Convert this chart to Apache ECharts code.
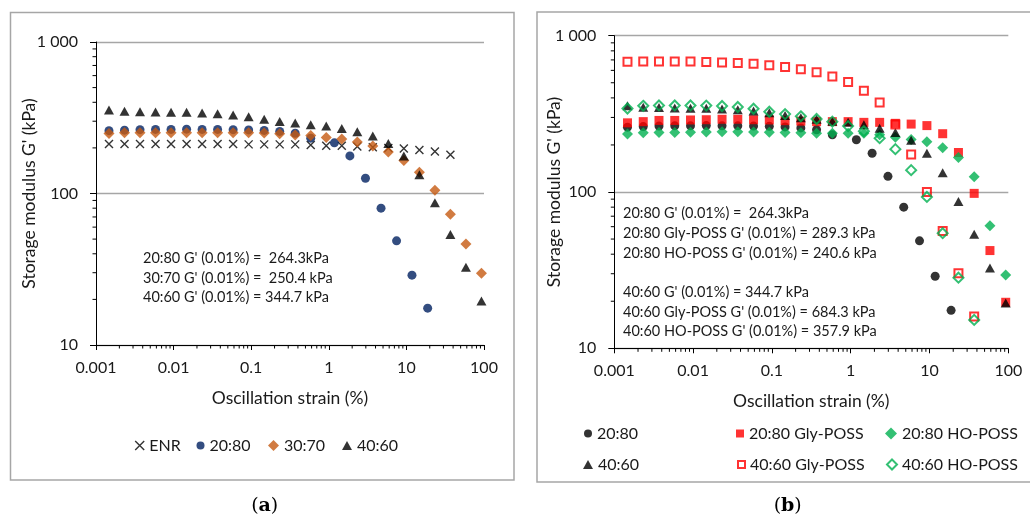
<!DOCTYPE html>
<html><head><meta charset="utf-8">
<script src="https://cdn.jsdelivr.net/npm/echarts@6/dist/echarts.min.js"></script>
<style>
html,body{margin:0;padding:0;background:#fff;}
#wrap{position:relative;width:1030px;height:518px;overflow:hidden;}
#ca{position:absolute;left:0;top:0;width:515px;height:518px;}
#cb{position:absolute;left:515px;top:0;width:515px;height:518px;}
</style>
</head><body>
<div id="wrap"><div id="ca"></div><div id="cb"></div></div>
<script>
// ---------- data ----------
const strain = [0.00147, 0.00233, 0.00369, 0.00585, 0.00927, 0.0147, 0.0233, 0.0369, 0.0585, 0.0927, 0.147, 0.233, 0.369, 0.585, 0.927, 1.47, 2.33, 3.69, 5.85, 9.27, 14.7, 23.3, 36.9, 58.5, 92.7];
const strain2080 = [0.00147, 0.00233, 0.00369, 0.00585, 0.00927, 0.0147, 0.0233, 0.0369, 0.0585, 0.0927, 0.147, 0.233, 0.369, 0.585, 1.18, 1.87, 2.97, 4.71, 7.47, 11.8, 18.8];
const gENR = [212, 212, 212, 212, 212, 212, 212, 212, 212, 211, 211, 211, 211, 209, 207, 207, 204, 202, 200, 198, 194, 189, 180];
const g2080 = [260, 262, 264, 265, 265, 266, 265, 265, 264, 263, 261, 257, 250, 232, 216, 177, 126, 80, 48.7, 28.9, 17.5];
const g3070 = [249, 252, 252, 252, 252, 252, 252, 252, 252, 252, 251, 248, 243, 241, 234, 229, 219, 206, 188, 165, 138, 105, 73, 46.4, 29.8];
const g4060 = [356, 349, 347, 345, 344, 344, 340, 336, 330, 321, 309, 299, 292, 284, 279, 269, 256, 240, 214, 177, 133, 87, 53.7, 32.6, 19.5];
const g2080Gly = [277, 282, 287, 287, 289, 290, 292, 292, 290, 289, 286, 284, 282, 282, 282, 279, 279, 275, 272, 266, 236, 179, 98, 42.2, 19.7];
const g2080HO = [235, 239, 240, 240, 241, 242, 243, 243, 242, 241, 240, 239, 238, 238, 238, 238, 232, 224, 217, 210, 192, 166, 125, 60.8, 29.4];
const g4060Gly = [682, 684, 684, 684, 684, 680, 675, 668, 662, 646, 631, 609, 583, 549, 505, 445, 374, 270, 174, 100, 56.4, 30.2, 16.0];
const g4060HO = [342, 356, 358, 358, 358, 357, 355, 350, 341, 326, 315, 305, 293, 282, 264, 245, 221, 188, 138, 93, 54.5, 28.3, 15.2];

const xTickLabels = ['0.001', '0.01', '0.1', '1', '10', '100'];
const yTickLabels = ['10', '100', '1 000'];
const xMinorTicks = [0.002, 0.003, 0.004, 0.005, 0.006, 0.007, 0.008, 0.009, 0.02, 0.03, 0.04, 0.05, 0.06, 0.07, 0.08, 0.09, 0.2, 0.3, 0.4, 0.5, 0.6, 0.7, 0.8, 0.9, 2, 3, 4, 5, 6, 7, 8, 9, 20, 30, 40, 50, 60, 70, 80, 90];
const yMinorTicks = [20, 30, 40, 50, 60, 70, 80, 90, 200, 300, 400, 500, 600, 700, 800, 900];

const notesA = ["20:80 G' (0.01%) =  264.3kPa", "30:70 G' (0.01%) =  250.4 kPa", "40:60 G' (0.01%) = 344.7 kPa"];
const notesB = ["20:80 G' (0.01%) =  264.3kPa", "20:80 Gly-POSS G' (0.01%) = 289.3 kPa", "20:80 HO-POSS G' (0.01%) = 240.6 kPa", "40:60 G' (0.01%) = 344.7 kPa", "40:60 Gly-POSS G' (0.01%) = 684.3 kPa", "40:60 HO-POSS G' (0.01%) = 357.9 kPa"];

// ---------- style ----------
const FONT = 'Lato';
const TXT = '#1a1a1a';
const CROSS = 'path://M0,0L10,10M10,0L0,10';
const pair = (xs, ys) => ys.map((y, i) => [xs[i], y]);

function xAxisDef(nameGap) {
  return {
    type: 'log', logBase: 10, min: 0.001, max: 100, splitNumber: 5,
    name: 'Oscillation strain (%)', nameLocation: 'middle', nameGap, nameMoveOverlap: false,
    nameTextStyle: { fontFamily: FONT, fontSize: 17.5, color: TXT },
    axisLine: { show: true, onZero: false, lineStyle: { color: '#000', width: 1 } },
    axisTick: { show: true, length: 5, lineStyle: { color: '#000', width: 1 } },
    axisLabel: { fontFamily: FONT, fontSize: 16, color: TXT, margin: 15,
      formatter: v => xTickLabels[Math.round(Math.log10(v)) + 3] },
    splitLine: { show: false }
  };
}
function yAxisDef(nameGap) {
  return {
    type: 'log', logBase: 10, min: 10, max: 1000, splitNumber: 2,
    name: "Storage modulus G' (kPa)", nameLocation: 'middle', nameGap, nameMoveOverlap: false,
    nameTextStyle: { fontFamily: FONT, fontSize: 17.5, color: TXT },
    axisLine: { show: true, onZero: false, lineStyle: { color: '#000', width: 1 } },
    axisTick: { show: true, length: 6, lineStyle: { color: '#000', width: 1 } },
    axisLabel: { fontFamily: FONT, fontSize: 16, color: TXT, margin: 18,
      formatter: v => yTickLabels[Math.round(Math.log10(v)) - 1] },
    splitLine: { show: true, lineStyle: { color: '#a6a6a6', width: 1.3 } }
  };
}
function minorTickSeries() {
  return [
    { type: 'custom', silent: true, clip: false, z: 5,
      data: xMinorTicks.map(v => [v, 10]),
      renderItem: (p, api) => { const c = api.coord([api.value(0), api.value(1)]);
        return { type: 'line', shape: { x1: c[0], y1: c[1], x2: c[0], y2: c[1] + 3.5 }, style: { stroke: '#000', lineWidth: 1 } }; } },
    { type: 'custom', silent: true, clip: false, z: 5,
      data: yMinorTicks.map(v => [0.001, v]),
      renderItem: (p, api) => { const c = api.coord([api.value(0), api.value(1)]);
        return { type: 'line', shape: { x1: c[0] - 3.5, y1: c[1], x2: c[0], y2: c[1] }, style: { stroke: '#000', lineWidth: 1 } }; } }
  ];
}
function sc(name, data, symbol, size, itemStyle) {
  return { type: 'scatter', name, data, symbol, symbolSize: size, itemStyle,
    emphasis: { disabled: true }, animation: false };
}
function leg(name, icon, left, yc, w, h, itemStyle) {
  return { data: [{ name, icon, itemStyle }], left, top: yc - 6.5, itemWidth: w, itemHeight: h,
    padding: 0, selectedMode: false, textStyle: { fontFamily: FONT, fontSize: 16, color: TXT } };
}
function notes(lines, x, ys) {
  return lines.map((t, i) => ({ type: 'text', x, y: ys[i], silent: true,
    style: { text: t, fontFamily: FONT, fontSize: 14.5, fill: TXT, align: 'left', verticalAlign: 'middle' } }));
}
function panelLabel(letter, x, y) {
  return { type: 'text', x, y, silent: true, style: {
    text: '{p|(}{b|' + letter + '}{p|)}', align: 'center', verticalAlign: 'middle',
    rich: { p: { fontFamily: 'DejaVu Serif', fontSize: 19, fill: '#000' },
            b: { fontFamily: 'DejaVu Serif', fontSize: 19, fontWeight: 'bold', fill: '#000' } } } };
}

const styEnr = { color: 'transparent', borderColor: '#000', borderWidth: 1.4 };
const styBlue = { color: '#002060' };
const styOr = { color: '#C55A11' };
const styBlk = { color: '#000' };
const styRed = { color: '#FF0000' };
const styRedO = { color: 'transparent', borderColor: '#FF0000', borderWidth: 2 };
const styGrn = { color: '#00B050' };
const styGrnO = { color: 'transparent', borderColor: '#00B050', borderWidth: 2 };

// ---------- panel (a) ----------
const chartA = echarts.init(document.getElementById('ca'), null, { renderer: 'canvas' });
chartA.setOption({
  animation: false,
  grid: { left: 96, right: 31, top: 42, bottom: 173 },
  xAxis: xAxisDef(44),
  yAxis: yAxisDef(58),
  legend: [
    leg('ENR', CROSS, 134.5, 444, 9, 9, styEnr),
    leg('20:80', 'circle', 196.5, 444, 8, 8, styBlue),
    leg('30:70', 'diamond', 268, 444, 11, 11, styOr),
    leg('40:60', 'triangle', 342, 444, 10, 9, styBlk)
  ],
  series: [
    sc('ENR', pair(strain, gENR), CROSS, 8, styEnr),
    sc('20:80', pair(strain2080, g2080), 'circle', 9, styBlue),
    sc('30:70', pair(strain, g3070), 'diamond', 11, styOr),
    sc('40:60', pair(strain, g4060), 'triangle', [10, 9], styBlk),
    ...minorTickSeries()
  ],
  graphic: [
    { type: 'rect', silent: true, z: -10, shape: { x: 10.5, y: 12.5, width: 503.5, height: 467.5 },
      style: { fill: 'none', stroke: '#a6a6a6', lineWidth: 1.5 } },
    ...notes(notesA, 143, [258.7, 278, 297.3]),
    panelLabel('a', 264.7, 506)
  ]
});

// ---------- panel (b) ----------
const chartB = echarts.init(document.getElementById('cb'), null, { renderer: 'canvas' });
chartB.setOption({
  animation: false,
  grid: { left: 99.3, right: 21.7, top: 35.7, bottom: 169.7 },
  xAxis: xAxisDef(44),
  yAxis: yAxisDef(51),
  legend: [
    leg('20:80', 'circle', 69, 432, 8, 8, styBlk),
    leg('40:60', 'triangle', 68, 463, 10, 9, styBlk),
    leg('20:80 Gly-POSS', 'rect', 221, 432, 8, 8, styRed),
    leg('40:60 Gly-POSS', 'rect', 222, 463, 7, 7, styRedO),
    leg('20:80 HO-POSS', 'diamond', 370, 432, 12, 12, styGrn),
    leg('40:60 HO-POSS', 'diamond', 371, 463, 10, 10, styGrnO)
  ],
  series: [
    sc('20:80', pair(strain2080, g2080), 'circle', 9, styBlk),
    sc('20:80 Gly-POSS', pair(strain, g2080Gly), 'rect', 9, styRed),
    sc('20:80 HO-POSS', pair(strain, g2080HO), 'diamond', 11, styGrn),
    sc('40:60', pair(strain, g4060), 'triangle', [10, 9], styBlk),
    sc('40:60 Gly-POSS', pair(strain, g4060Gly), 'rect', 8, styRedO),
    sc('40:60 HO-POSS', pair(strain, g4060HO), 'diamond', 10, styGrnO),
    ...minorTickSeries()
  ],
  graphic: [
    { type: 'rect', silent: true, z: -10, shape: { x: 22, y: 12, width: 520, height: 470 },
      style: { fill: 'none', stroke: '#a6a6a6', lineWidth: 1.5 } },
    ...notes(notesB, 108, [213.3, 233.3, 253.3, 292.7, 312.3, 331.7]),
    panelLabel('b', 272.7, 506)
  ]
});
</script>
</body></html>
